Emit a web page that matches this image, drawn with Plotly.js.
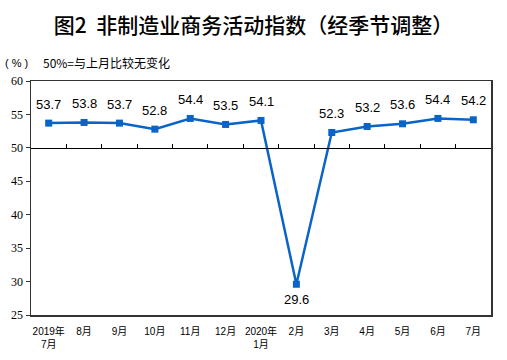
<!DOCTYPE html>
<html>
<head>
<meta charset="utf-8">
<script src="https://cdn.plot.ly/plotly-3.0.1.min.js"></script>
<style>html,body{margin:0;padding:0;background:#fff;}#chart{width:507px;height:360px;}</style>
</head>
<body>
<div id="chart"></div>
<script>
const categories = ["2019年<br>7月","8月","9月","10月","11月","12月","2020年<br>1月","2月","3月","4月","5月","6月","7月"];
const values = [53.7, 53.8, 53.7, 52.8, 54.4, 53.5, 54.1, 29.6, 52.3, 53.2, 53.6, 54.4, 54.2];
const yTicks = [25, 30, 35, 40, 45, 50, 55, 60];
const baseline = 50;
const titleText = "图2  非制造业商务活动指数（经季节调整）";
const unitText = "( % )";
const noteText = "50%=与上月比较无变化";

const yMin = 25, yMax = 60;
const blue = "#0a64c8";
const minVal = Math.min(...values);

const labelAnnotations = values.map((v, i) => ({
  x: categories[i], y: v, xref: "x", yref: "y",
  text: v.toFixed(1), showarrow: false,
  yshift: v === minVal ? -15 : 19,
  font: {family: "Liberation Sans, Arial", size: 13, color: "#000"}
}));

const traces = [
  {
    type: "scatter", mode: "lines+markers",
    x: categories, y: values,
    line: {color: blue, width: 2.5},
    marker: {symbol: "square", size: 7, color: blue},
    hoverinfo: "skip", showlegend: false
  },
  {
    type: "scatter", mode: "lines",
    x: values.map((v, i) => i), y: values,
    xaxis: "x2", yaxis: "y",
    line: {color: "rgba(0,0,0,0)", width: 0},
    hoverinfo: "skip", showlegend: false
  }
];

const layout = {
  width: 507, height: 360,
  margin: {l: 31, r: 16, t: 81, b: 45},
  paper_bgcolor: "#fff", plot_bgcolor: "#fff",
  showlegend: false,
  title: {
    text: titleText,
    font: {family: "Noto Sans CJK SC", size: 21, color: "#000", weight: 500},
    x: 0.5, xanchor: "center", xref: "container",
    y: 1 - 26/360, yanchor: "middle", yref: "container"
  },
  xaxis: {
    type: "category", categoryarray: categories,
    range: [-0.5, categories.length - 0.5],
    showgrid: false, zeroline: false,
    showline: true, linecolor: "#333", linewidth: 1.5, mirror: true,
    ticks: "", ticklabelstandoff: 6,
    tickfont: {family: "Liberation Sans, Noto Sans CJK SC", size: 10, color: "#000"}
  },
  xaxis2: {
    overlaying: "x", anchor: "free",
    position: (baseline - yMin) / (yMax - yMin),
    range: [-0.5, categories.length - 0.5],
    tick0: 0.5, dtick: 1,
    showgrid: false, zeroline: false,
    showline: true, linecolor: "#000", linewidth: 1.2,
    ticks: "inside", ticklen: 4, tickcolor: "#000", tickwidth: 1,
    showticklabels: false, fixedrange: true
  },
  yaxis: {
    range: [yMin, yMax], tickvals: yTicks,
    showgrid: false, zeroline: false,
    showline: true, linecolor: "#333", linewidth: 1.5, mirror: true,
    ticks: "outside", ticklen: 4, tickcolor: "#333",
    tickfont: {family: "Liberation Serif", size: 12, color: "#000"}
  },
  annotations: labelAnnotations.concat([
    {xref: "paper", yref: "paper", x: -0.06, y: 1.078, xanchor: "left", yanchor: "middle",
     text: unitText, showarrow: false,
     font: {family: "Liberation Sans, Noto Sans CJK SC", size: 11, color: "#000"}},
    {xref: "paper", yref: "paper", x: 0.022, y: 1.078, xanchor: "left", yanchor: "middle",
     text: noteText, showarrow: false,
     font: {family: "Noto Sans CJK SC", size: 12, color: "#000"}}
  ])
};

Plotly.newPlot("chart", traces, layout, {displayModeBar: false, staticPlot: true});
</script>
</body>
</html>
